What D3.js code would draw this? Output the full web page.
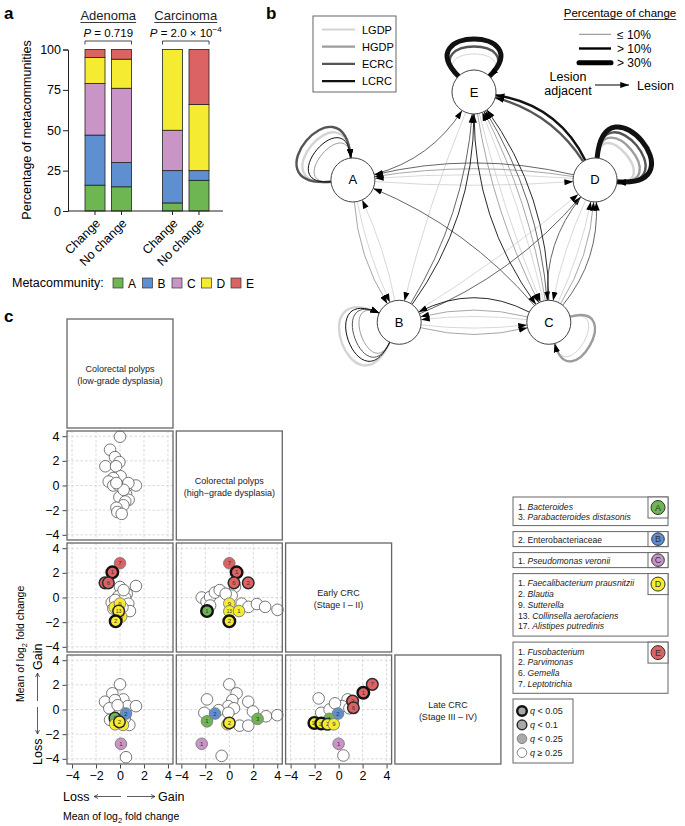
<!DOCTYPE html>
<html><head><meta charset="utf-8">
<script src="https://cdnjs.cloudflare.com/ajax/libs/d3/7.8.5/d3.min.js"></script>
<style>
body{margin:0;background:#fff;}
svg{display:block;font-family:"Liberation Sans",Arial,Helvetica,sans-serif;}
</style></head><body>
<svg id="fig" width="685" height="826"></svg>
<script>
// ================= DATA =================
// Panel a
const metas = ["A","B","C","D","E"];
const metaColors = ["#6db652","#5e8fd1","#c995c7","#f5eb30","#dc6363"];
const groups = ["Adenoma","Carcinoma"];
const groupPBase = ["0.719","2.0 × 10"];
const groupPSup = ["","−4"];
const barGroup = ["Adenoma","Adenoma","Carcinoma","Carcinoma"];
const barLabel = ["Change","No change","Change","No change"];
const pctA = [16,15,5,19];
const pctB = [31,15,20,6];
const pctC = [32,46,25,0];
const pctD = [16,18,50,41];
const pctE = [5,6,0,34];
const pctTicks = [0,25,50,75,100];

// Panel b
const nodeIds = ["E","D","C","B","A"];
const stages = ["LGDP","HGDP","ECRC","LCRC"];
const stageColors = ["#d4d4d4","#9c9c9c","#555555","#111111"];
const changeLabels = ["≤ 10%","> 10%","> 30%"];
const transitions = [
 ["E","E","LGDP",0],["E","E","ECRC",1],["E","E","LCRC",2],
 ["A","A","LCRC",0],["A","A","HGDP",0],["A","A","LGDP",1],["A","A","ECRC",1],
 ["D","D","LGDP",1],["D","D","HGDP",1],["D","D","ECRC",1],["D","D","LCRC",2],
 ["B","B","LGDP",1],["B","B","HGDP",0],["B","B","ECRC",0],["B","B","LCRC",0],
 ["C","C","LGDP",0],["C","C","HGDP",1],
 ["A","E","ECRC",0],
 ["B","E","ECRC",0],["B","E","LCRC",0],
 ["C","E","LGDP",0],["C","E","HGDP",0],["C","E","ECRC",0],["C","E","LCRC",0],
 ["D","E","ECRC",1],["D","E","LCRC",1],
 ["D","A","LGDP",0],["D","A","HGDP",0],["D","A","ECRC",0],
 ["A","D","LGDP",0],
 ["C","A","ECRC",0],
 ["A","B","LGDP",0],["A","B","HGDP",0],
 ["B","A","LGDP",0],
 ["C","B","LGDP",0],["C","B","HGDP",0],["C","B","LCRC",0],
 ["B","C","LGDP",0],["B","C","HGDP",0],
 ["B","D","LGDP",0],["B","D","ECRC",0],
 ["C","D","LGDP",0],["C","D","HGDP",0],["C","D","ECRC",0],
 ["D","C","LGDP",0],["D","C","ECRC",0],
 ["E","C","LGDP",0],["E","C","HGDP",0],["E","C","LCRC",0],
 ["E","B","LGDP",0]
];

// Panel c
const stageNames = [["Colorectal polyps","(low-grade dysplasia)"],["Colorectal polyps","(high−grade dysplasia)"],["Early CRC","(Stage I – II)"],["Late CRC","(Stage III – IV)"]];
const axisTicks = [-4,-2,0,2,4];
const open_h_l = [[0,3.96],[-0.83,2.9],[-0.42,2.3],[-0.05,1.9],[-1.22,1.56],[-0.33,1.56],[0.05,0.75],[-0.56,0.6],[-0.94,0.32],[-0.56,0],[-0.1,0],[0.64,0],[1.33,0],[0.7,0.2],[0.5,-0.67],[0.72,-1.16],[-0.05,-0.94],[0.44,-1.3],[0.28,-1.6],[-0.3,-1.8],[-0.22,-2.15],[0.14,-2.3],[0.3,-0.35],[-0.3,0.2]];
const sig_h_l = [];
const open_e_l = [[0,0.85],[1.33,0.93],[0.56,0.3],[-0.14,0.1],[0.42,0],[-0.69,-0.4],[0.69,-0.5],[0.83,-1.1],[-0.56,-0.9],[0.3,0.6],[-0.4,-0.2],[0.2,-0.8]];
const sig_e_l = [[-1.25,1.19,"E","2",1],[0,2.78,"E","7",2],[-0.64,2.04,"E","1",0],[-0.97,1.19,"E","6",1],[-0.45,-0.8,"D","1",2],[0,-0.49,"D","9",2],[0.1,-1.55,"D","17",2],[-0.11,-1.1,"D","13",1],[-0.36,-1.93,"D","2",0]];
const open_e_h = [[-2.3,0],[-1.9,-0.35],[-1.6,0.05],[-1.2,0.4],[-0.8,0.6],[0.47,0.87],[0.2,0.15],[1.03,-0.5],[1.6,-0.76],[2.3,-0.53],[2.99,-0.76],[4.02,-1.0],[-1.6,-0.65],[-0.3,0.3]];
const sig_e_h = [[0,2.78,"E","7",2],[0.61,2.04,"E","1",0],[0.39,1.19,"E","6",1],[1.58,1.19,"E","2",1],[-1.86,-1.1,"A","1",0],[0,-0.49,"D","9",2],[0,-1.12,"D","13",2],[0.81,-1.1,"D","1",2],[0,-1.93,"D","2",0]];
const open_l_l = [[0,2.04],[-0.64,1.31],[0.28,0.82],[-1.25,0.63],[-0.42,0.76],[0.64,0.27],[1.33,0.27],[-0.89,0.1],[0,-0.16],[0.78,-1.25],[-0.83,-0.84],[0.5,-3.87],[-0.2,0.35],[0.4,-0.7]];
const sig_l_l = [[0.5,-0.33,"B","2",2],[-0.42,-0.7,"A","1",1],[-0.4,-1.2,"D","13",2],[0.25,-1.25,"D","1",2],[-0.05,-1.0,"D","2",1],[0.08,-2.78,"C","1",2]];
const open_l_h = [[0,2.04],[0.61,1.31],[-1.86,0.82],[0.25,0.76],[1.58,0.63],[-0.08,0.27],[0.39,0.1],[1.97,-0.16],[-2.08,-0.27],[-0.89,-0.05],[-0.08,-0.27],[0.86,-1.31],[1.58,-1.31],[3.06,-0.55],[4.0,-0.46],[-0.64,-3.76]];
const sig_l_h = [[-1.19,-0.33,"B","2",2],[-1.86,-0.96,"A","1",2],[2.36,-0.76,"A","3",2],[-0.15,-1.2,"D","1",2],[0,-1.09,"D","2",1],[-2.3,-2.78,"C","1",2]];
const open_l_e = [[-1.66,0.9],[0.75,0.82],[0.3,0.27],[-1.45,-0.27],[-0.75,0],[0.9,0.1],[0.4,-3.73],[-0.3,0.5]];
const sig_l_e = [[2.81,2.04,"E","7",1],[2.06,1.36,"E","1",0],[1.17,0.68,"E","2",1],[1.23,0.14,"E","6",1],[-0.05,-0.33,"B","2",2],[-0.77,-0.76,"A","1",2],[-2.02,-1.09,"D","17",0],[-1.45,-1.14,"D","13",0],[-0.92,-1.2,"D","2",1],[-0.4,-1.2,"D","9",2],[0,-2.78,"C","1",2]];

const speciesA = [["1.","Bacteroides",true],["3.","Parabacteroides distasonis",true]];
const speciesB = [["2.","Enterobacteriaceae",false]];
const speciesC = [["1.","Pseudomonas veronii",true]];
const speciesD = [["1.","Faecalibacterium prausnitzii",true],["2.","Blautia",true],["9.","Sutterella",true],["13.","Collinsella aerofaciens",true],["17.","Alistipes putredinis",true]];
const speciesE = [["1.","Fusobacterium",true],["2.","Parvimonas",true],["6.","Gemella",true],["7.","Leptotrichia",true]];
const qLabels = ["< 0.05","< 0.1","< 0.25","≥ 0.25"];

// ================= DRAW =================
const svg = d3.select("#fig");
const color = d3.scaleOrdinal().domain(metas).range(metaColors);

function panelLetter(t,x,y){svg.append("text").attr("x",x).attr("y",y).attr("font-size",17).attr("font-weight","bold").text(t);}
panelLetter("a",4,19); panelLetter("b",266,19); panelLetter("c",4,322);

// ---------- Panel a ----------
(function(){
 const g = svg.append("g");
 const y = d3.scaleLinear().domain([0,100]).range([211,49.5]);
 const xg = d3.scaleBand().domain(groups).range([85,209]).paddingInner(0.4);
 const xi = d3.scaleBand().domain(["Change","No change"]).range([0,xg.bandwidth()]).paddingInner(0.245);
 const rows = barLabel.map((l,i)=>({group:barGroup[i],label:l,A:pctA[i],B:pctB[i],C:pctC[i],D:pctD[i],E:pctE[i]}));
 const series = d3.stack().keys(metas)(rows);
 const bx = d => xg(d.data.group)+xi(d.data.label);
 g.selectAll("g.s").data(series).join("g").attr("fill",s=>color(s.key))
  .selectAll("rect").data(s=>s.filter(d=>d[1]-d[0]>0)).join("rect")
  .attr("x",bx).attr("width",xi.bandwidth()).attr("y",d=>y(d[1])).attr("height",d=>y(d[0])-y(d[1]))
  .attr("stroke","#222").attr("stroke-width",0.8);
 const ax = g.append("g").attr("transform","translate(68,0)").call(d3.axisLeft(y).tickValues(pctTicks).tickSize(5).tickPadding(2));
 ax.selectAll("text").attr("font-size",12.5).attr("font-family","Liberation Sans, Arial");
 ax.selectAll("line,path").attr("stroke","#222");
 g.append("line").attr("x1",68).attr("x2",223).attr("y1",211).attr("y2",211).attr("stroke","#222");
 g.selectAll("line.bt").data(rows).join("line").attr("class","bt")
  .attr("x1",d=>xg(d.group)+xi(d.label)+xi.bandwidth()/2).attr("x2",d=>xg(d.group)+xi(d.label)+xi.bandwidth()/2)
  .attr("y1",211).attr("y2",215).attr("stroke","#222");
 g.selectAll("text.xl").data(rows).join("text").attr("class","xl")
  .attr("transform",d=>`translate(${xg(d.group)+xi(d.label)+xi.bandwidth()/2+6},224) rotate(-45)`)
  .attr("text-anchor","end").attr("font-size",12.5).text(d=>d.label);
 g.append("text").attr("transform","translate(31,130) rotate(-90)").attr("text-anchor","middle").attr("font-size",12.5).text("Percentage of metacommunities");
 groups.forEach((gr,i)=>{
  const cx = xg(gr)+xg.bandwidth()/2;
  const t = g.append("text").attr("x",cx).attr("y",20).attr("text-anchor","middle").attr("font-size",13).attr("fill","#222").text(gr);
  const w = t.node().getComputedTextLength();
  g.append("line").attr("x1",cx-w/2).attr("x2",cx+w/2).attr("y1",22.5).attr("y2",22.5).attr("stroke","#222").attr("stroke-width",0.9);
  const p = g.append("text").attr("x",cx).attr("y",37).attr("text-anchor","middle").attr("font-size",11.5);
  p.append("tspan").attr("font-style","italic").text("P");
  p.append("tspan").text(" = "+groupPBase[i]);
  if(groupPSup[i]) p.append("tspan").attr("dy",-5).attr("font-size",8).text(groupPSup[i]);
  const x0 = xg(gr), x1 = xg(gr)+xg.bandwidth();
  g.append("path").attr("d",`M${x0},44.5V41H${x1}V44.5`).attr("fill","none").attr("stroke","#333").attr("stroke-width",0.9);
 });
 const lg = g.append("g");
 lg.append("text").attr("x",12).attr("y",287).attr("font-size",12.5).text("Metacommunity:");
 metas.forEach((m,i)=>{
  const x = 113 + i*29.5;
  lg.append("rect").attr("x",x).attr("y",278).attr("width",10).attr("height",10).attr("fill",color(m)).attr("stroke","#333").attr("stroke-width",0.7);
  lg.append("text").attr("x",x+15).attr("y",287.5).attr("font-size",12).text(m);
 });
})();

// ---------- Panel b ----------
(function(){
 const g = svg.append("g");
 const cxp = 474, cyp = 219.3, R = 127.3, r = 22;
 const ang = d3.scalePoint().domain(nodeIds).range([0,4]);
 const pos = {};
 nodeIds.forEach(id=>{const a = (-90 + 72*ang(id))*Math.PI/180; pos[id] = {x:cxp+R*Math.cos(a), y:cyp+R*Math.sin(a)};});
 const loopDir = {E:-90, D:-40, C:30, B:160, A:-140};
 const stageIdx = d3.scaleOrdinal().domain(stages).range([0,1,2,3]);
 const sColor = d3.scaleOrdinal().domain(stages).range(stageColors);
 const width = d3.scaleOrdinal().domain([0,1,2]).range([1,2.4,5]);
 // rank of each self loop within its node (bigger change / later stage = outer loop)
 const loopRank = new Map();
 d3.group(transitions.filter(d=>d[0]===d[1]), d=>d[0]).forEach(list=>{
  list.slice().sort((a,b)=>(a[3]*4+stageIdx(a[2]))-(b[3]*4+stageIdx(b[2]))).forEach((d,i)=>loopRank.set(d,i));
 });
 const defs = svg.append("defs");
 defs.append("marker").attr("id","arr").attr("markerUnits","userSpaceOnUse").attr("viewBox","0 -4 10 8")
  .attr("markerWidth",9).attr("markerHeight",7).attr("refX",10).attr("refY",0).attr("orient","auto")
  .append("path").attr("d","M0,-3.4L10,0L0,3.4Z").attr("fill","#000");
 function edgePath(d){
  const [s,t,st] = d; const k = stageIdx(st);
  const S = pos[s], T = pos[t];
  if(s===t){
   const rk = loopRank.get(d);
   const th = loopDir[s]*Math.PI/180, a = 0.78, L = (s==="E"?42:46) + (s==="E"?14:13)*rk;
   const p0=[S.x+r*Math.cos(th-a), S.y+r*Math.sin(th-a)];
   const p3=[S.x+r*Math.cos(th+a), S.y+r*Math.sin(th+a)];
   const p1=[p0[0]+L*Math.cos(th-a), p0[1]+L*Math.sin(th-a)];
   const p2=[p3[0]+L*Math.cos(th+a), p3[1]+L*Math.sin(th+a)];
   return `M${p0}C${p1} ${p2} ${p3}`;
  }
  const dx=T.x-S.x, dy=T.y-S.y, len=Math.hypot(dx,dy);
  const off = 9 + 10*k;
  const cx=(S.x+T.x)/2 - dy/len*off, cy=(S.y+T.y)/2 + dx/len*off;
  const u1=[cx-S.x, cy-S.y], l1=Math.hypot(...u1);
  const u2=[T.x-cx, T.y-cy], l2=Math.hypot(...u2);
  const p0=[S.x+u1[0]/l1*r, S.y+u1[1]/l1*r];
  const p1=[T.x-u2[0]/l2*r, T.y-u2[1]/l2*r];
  return `M${p0}Q${cx},${cy} ${p1}`;
 }
 const sorted = transitions.slice().sort((a,b)=>stageIdx(a[2])-stageIdx(b[2]));
 g.selectAll("path.e").data(sorted).join("path").attr("class","e")
  .attr("d",edgePath).attr("fill","none").attr("stroke",d=>sColor(d[2])).attr("stroke-width",d=>d[0]===d[1]?width(d[3]):Math.min(width(d[3]),2.4)*(d[3]===0?0.9:1))
  .attr("marker-end","url(#arr)");
 g.selectAll("circle.n").data(nodeIds).join("circle").attr("class","n")
  .attr("cx",d=>pos[d].x).attr("cy",d=>pos[d].y).attr("r",r).attr("fill","#fff").attr("stroke","#444").attr("stroke-width",1);
 g.selectAll("text.n").data(nodeIds).join("text").attr("class","n")
  .attr("x",d=>pos[d].x).attr("y",d=>pos[d].y+4.5).attr("text-anchor","middle").attr("font-size",13).text(d=>d);
 // stage legend
 g.append("rect").attr("x",313).attr("y",16).attr("width",83).attr("height",76).attr("fill","#fff").attr("stroke","#555").attr("stroke-width",0.9);
 stages.forEach((s,i)=>{
  const yy = 29.5 + i*17.2;
  g.append("line").attr("x1",322).attr("x2",355).attr("y1",yy).attr("y2",yy).attr("stroke",sColor(s)).attr("stroke-width",2.2);
  g.append("text").attr("x",362).attr("y",yy+4).attr("font-size",11).text(s);
 });
 // percentage legend
 const t = g.append("text").attr("x",620).attr("y",17).attr("text-anchor","middle").attr("font-size",11.5).text("Percentage of change");
 const w = t.node().getComputedTextLength();
 g.append("line").attr("x1",620-w/2).attr("x2",620+w/2).attr("y1",19.5).attr("y2",19.5).attr("stroke","#222").attr("stroke-width",0.9);
 changeLabels.forEach((lab,i)=>{
  const yy = 34.3 + i*14.2;
  g.append("line").attr("x1",579).attr("x2",611).attr("y1",yy).attr("y2",yy)
   .attr("stroke",i===0?"#888":"#000").attr("stroke-width",width(i)).attr("stroke-linecap",i===2?"round":"butt");
  g.append("text").attr("x",617).attr("y",yy+4.5).attr("font-size",12).text(lab);
 });
 g.append("text").attr("x",568).attr("y",81).attr("text-anchor","middle").attr("font-size",12.5).text("Lesion");
 g.append("text").attr("x",568).attr("y",95).attr("text-anchor","middle").attr("font-size",12.5).text("adjacent");
 g.append("line").attr("x1",595).attr("x2",629).attr("y1",85).attr("y2",85).attr("stroke","#000").attr("stroke-width",1).attr("marker-end","url(#arr)");
 g.append("text").attr("x",637).attr("y",89.5).attr("font-size",12.5).text("Lesion");
})();

// ---------- Panel c ----------
(function(){
 const g = svg.append("g");
 const W = 106, H = 109;
 const colX = j => 67 + j*109.3, rowY = i => 319 + i*112;
 const qStroke = ["#111","#2a2a2a","#7a7a7a","#666"];
 const qWidth = [2.4,1.5,0.9,0.8];
 const panels = [
  {i:1,j:0,open:open_h_l,sig:sig_h_l},{i:2,j:0,open:open_e_l,sig:sig_e_l},{i:2,j:1,open:open_e_h,sig:sig_e_h},
  {i:3,j:0,open:open_l_l,sig:sig_l_l},{i:3,j:1,open:open_l_h,sig:sig_l_h},{i:3,j:2,open:open_l_e,sig:sig_l_e}
 ];
 stageNames.forEach((nm,k)=>{
  const x0=colX(k), y0=rowY(k);
  g.append("rect").attr("x",x0).attr("y",y0).attr("width",W).attr("height",H).attr("fill","#fff").attr("stroke","#666").attr("stroke-width",1.3);
  nm.forEach((line,li)=>g.append("text").attr("x",x0+W/2).attr("y",y0+H/2+li*12-2).attr("text-anchor","middle").attr("font-size",9).attr("fill","#222").text(line));
 });
 panels.forEach(p=>{
  const x0=colX(p.j), y0=rowY(p.i);
  const x = d3.scaleLinear().domain([-4.42,4.42]).range([x0,x0+W]);
  const y = d3.scaleLinear().domain([-4.42,4.42]).range([y0+H,y0]);
  const pg = g.append("g");
  pg.append("rect").attr("x",x0).attr("y",y0).attr("width",W).attr("height",H).attr("fill","#fff");
  pg.selectAll("line.gx").data(axisTicks).join("line").attr("x1",d=>x(d)).attr("x2",d=>x(d)).attr("y1",y0).attr("y2",y0+H)
   .attr("stroke","#cfcfcf").attr("stroke-width",0.8).attr("stroke-dasharray","2.5,2");
  pg.selectAll("line.gy").data(axisTicks).join("line").attr("y1",d=>y(d)).attr("y2",d=>y(d)).attr("x1",x0).attr("x2",x0+W)
   .attr("stroke","#cfcfcf").attr("stroke-width",0.8).attr("stroke-dasharray","2.5,2");
  pg.selectAll("circle.o").data(p.open).join("circle").attr("cx",d=>x(d[0])).attr("cy",d=>y(d[1])).attr("r",5.8)
   .attr("fill","#fff").attr("stroke","#555").attr("stroke-width",0.8);
  const sg = pg.selectAll("g.s").data(p.sig).join("g").attr("class","s");
  sg.append("circle").attr("cx",d=>x(d[0])).attr("cy",d=>y(d[1])).attr("r",5.8)
   .attr("fill",d=>color(d[2])).attr("stroke",d=>qStroke[d[4]]).attr("stroke-width",d=>qWidth[d[4]]);
  sg.append("text").attr("x",d=>x(d[0])).attr("y",d=>y(d[1])+2.1).attr("text-anchor","middle")
   .attr("font-size",d=>d[3].length>1?4.6:6).attr("fill","#333").text(d=>d[3]);
  pg.append("rect").attr("x",x0).attr("y",y0).attr("width",W).attr("height",H).attr("fill","none").attr("stroke","#666").attr("stroke-width",1.3);
  if(p.j===0){
   const a = pg.append("g").attr("transform",`translate(${x0-0.5},0)`).call(d3.axisLeft(y).tickValues(axisTicks).tickSize(4).tickPadding(3));
   a.select(".domain").remove();
   a.selectAll("text").attr("font-size",12.5).attr("font-family","Liberation Sans, Arial");
   a.selectAll("line").attr("stroke","#444");
  }
  if(p.i===3){
   const a = pg.append("g").attr("transform",`translate(0,${y0+H+0.5})`).call(d3.axisBottom(x).tickValues(axisTicks).tickSize(4).tickPadding(3));
   a.select(".domain").remove();
   a.selectAll("text").attr("font-size",12.5).attr("font-family","Liberation Sans, Arial");
   a.selectAll("line").attr("stroke","#444");
  }
 });
 function lossGain(sel){
  sel.append("text").attr("x",0).attr("y",0).attr("font-size",12.5).text("Loss");
  sel.append("path").attr("d","M31,-4.5H58M31,-4.5l4,-2M31,-4.5l4,2").attr("stroke","#333").attr("fill","none").attr("stroke-width",0.8);
  sel.append("path").attr("d","M64,-4.5H92M92,-4.5l-4,-2M92,-4.5l-4,2").attr("stroke","#333").attr("fill","none").attr("stroke-width",0.8);
  sel.append("text").attr("x",95).attr("y",0).attr("font-size",12.5).text("Gain");
 }
 function meanLabel(sel){
  const t = sel.append("text").attr("x",0).attr("y",0).attr("font-size",10.5);
  t.append("tspan").text("Mean of log");
  t.append("tspan").attr("dy",2.5).attr("font-size",7.5).text("2");
  t.append("tspan").attr("dy",-2.5).text(" fold change");
 }
 lossGain(g.append("g").attr("transform","translate(63,801)"));
 meanLabel(g.append("g").attr("transform","translate(63,820)"));
 lossGain(g.append("g").attr("transform","translate(42,765) rotate(-90)"));
 meanLabel(g.append("g").attr("transform","translate(24,702) rotate(-90)"));

 const boxes = [["A",speciesA],["B",speciesB],["C",speciesC],["D",speciesD],["E",speciesE]];
 let top = 497;
 const bx0 = 513, bw = 155;
 boxes.forEach(([m,list])=>{
  const n = list.length;
  const h = n===1 ? 15 : 11.3*n+6;
  g.append("rect").attr("x",bx0).attr("y",top).attr("width",bw).attr("height",h).attr("fill","#fff").attr("stroke","#666").attr("stroke-width",1);
  const sq = n===1 ? 15 : 21;
  g.append("rect").attr("x",bx0+bw-20).attr("y",top).attr("width",20).attr("height",sq).attr("fill","#fff").attr("stroke","#666").attr("stroke-width",1);
  g.append("circle").attr("cx",bx0+bw-10).attr("cy",top+sq/2).attr("r",n===1?6.3:7).attr("fill",color(m)).attr("stroke","#333").attr("stroke-width",1);
  g.append("text").attr("x",bx0+bw-10).attr("y",top+sq/2+3.3).attr("text-anchor","middle").attr("font-size",9).attr("fill","#333").text(m);
  list.forEach((s,k)=>{
   const t = g.append("text").attr("x",bx0+5).attr("y",top+(n===1?11:12.5)+k*10.8).attr("font-size",8.6).attr("fill","#222");
   t.append("tspan").text(s[0]+" ");
   t.append("tspan").attr("font-style",s[2]?"italic":"normal").text(s[1]);
  });
  top += h + 6;
 });
 const qy0 = 699;
 g.append("rect").attr("x",513).attr("y",qy0).attr("width",60).attr("height",64).attr("fill","#fff").attr("stroke","#666").attr("stroke-width",1);
 qLabels.forEach((q,k)=>{
  const yy = qy0 + 12 + k*13.9;
  g.append("circle").attr("cx",522).attr("cy",yy).attr("r",4.8).attr("fill",k<3?"#a9a9a9":"#fff").attr("stroke",qStroke[k]).attr("stroke-width",qWidth[k]);
  const t = g.append("text").attr("x",530).attr("y",yy+3).attr("font-size",9).attr("fill","#222");
  t.append("tspan").attr("font-style","italic").text("q");
  t.append("tspan").text(" "+q);
 });
})();
</script>
</body></html>
